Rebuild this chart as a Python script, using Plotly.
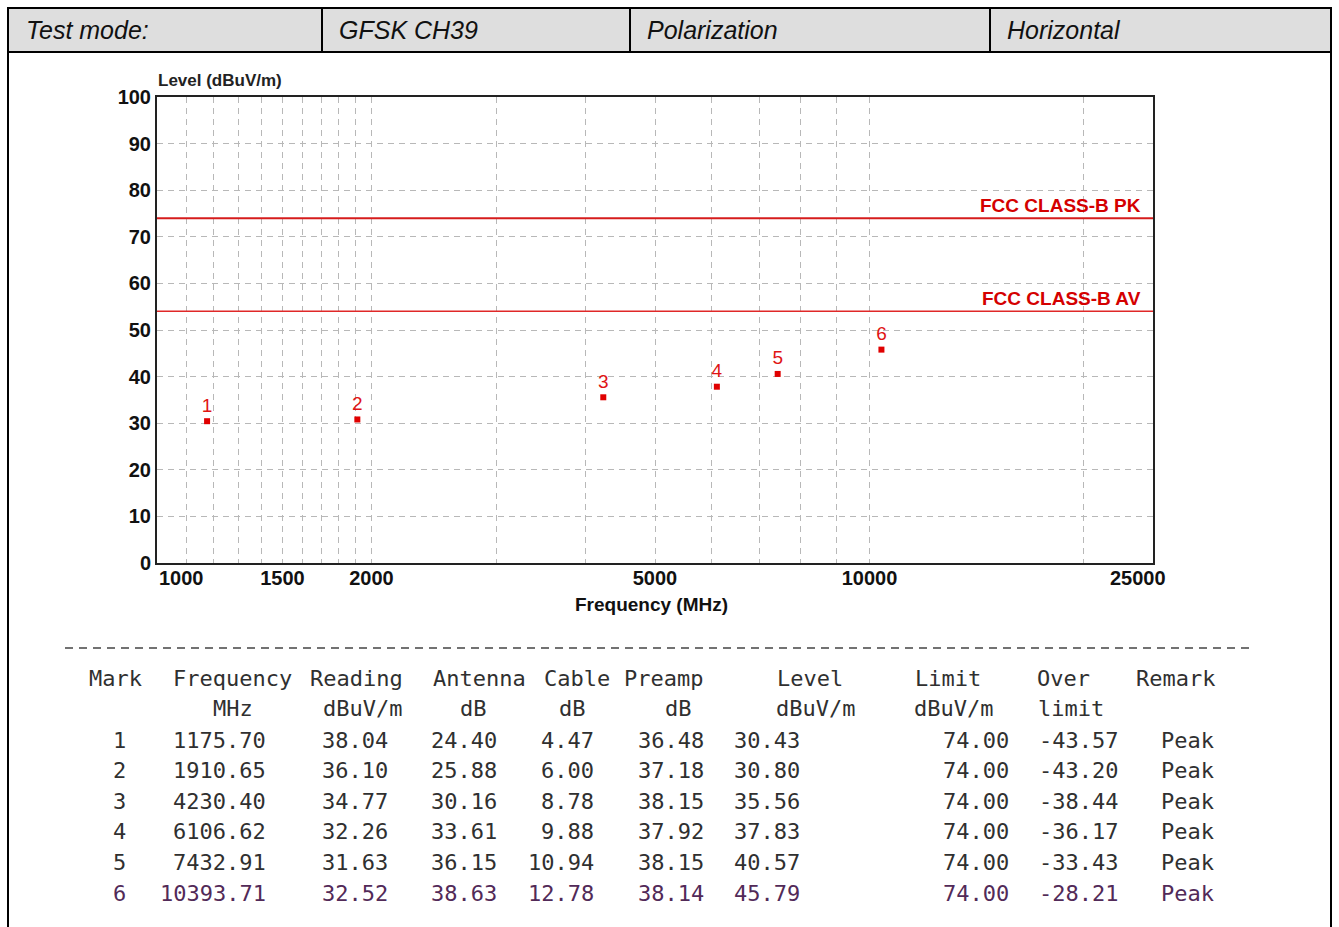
import math
import plotly.graph_objects as go

# measurement data (from the table under the chart)
MARKS = [1, 2, 3, 4, 5, 6]
FREQ = [1175.70, 1910.65, 4230.40, 6106.62, 7432.91, 10393.71]
READING = [38.04, 36.10, 34.77, 32.26, 31.63, 32.52]
ANTENNA = [24.40, 25.88, 30.16, 33.61, 36.15, 38.63]
CABLE = [4.47, 6.00, 8.78, 9.88, 10.94, 12.78]
PREAMP = [36.48, 37.18, 38.15, 37.92, 38.15, 38.14]
LEVEL = [30.43, 30.80, 35.56, 37.83, 40.57, 45.79]
LIMIT = [74.00, 74.00, 74.00, 74.00, 74.00, 74.00]
OVER = [-43.57, -43.20, -38.44, -36.17, -33.43, -28.21]
REMARK = ["Peak", "Peak", "Peak", "Peak", "Peak", "Peak"]

PK_LIMIT = 74
AV_LIMIT = 54
F_MIN, F_MAX = 1000, 25000

X_TICKS = [1000, 1500, 2000, 5000, 10000, 25000]
Y_TICKS = [0, 10, 20, 30, 40, 50, 60, 70, 80, 90, 100]
GRID_FREQS = [1100, 1200, 1300, 1400, 1500, 1600, 1700, 1800, 1900, 2000,
              3000, 4000, 5000, 6000, 7000, 8000, 9000, 10000, 20000]

HEADER = ["Test mode:", "GFSK CH39", "Polarization", "Horizontal"]
COL_HEAD1 = ["Mark", "Frequency", "Reading", "Antenna", "Cable", "Preamp",
             "Level", "Limit", "Over", "Remark"]
COL_HEAD2 = ["", "MHz", "dBuV/m", "dB", "dB", "dB", "dBuV/m", "dBuV/m", "limit", ""]

W, H = 1339, 927


def px(x):
    return x / W


def py(y):
    return 1 - y / H


GRID = "#b8b8b8"
DASH = "6px,5px"
TXT = "#303030"
SANS = "Liberation Sans"

fig = go.Figure()

fig.add_trace(go.Scatter(x=[F_MIN, F_MAX], y=[PK_LIMIT, PK_LIMIT], mode="lines",
                         line=dict(color="#d61c1c", width=2), hoverinfo="skip"))
fig.add_trace(go.Scatter(x=[F_MIN, F_MAX], y=[AV_LIMIT, AV_LIMIT], mode="lines",
                         line=dict(color="#e02828", width=1.5), hoverinfo="skip"))
fig.add_trace(go.Scatter(x=FREQ, y=LEVEL, mode="markers+text",
                         text=[str(m) for m in MARKS], textposition="top center",
                         textfont=dict(family=SANS, size=19, color="#e01414"),
                         marker=dict(symbol="square", size=6, color="#e00000")))

fig.update_layout(
    width=W, height=H, margin=dict(l=0, r=0, t=0, b=0, autoexpand=False),
    paper_bgcolor="white", plot_bgcolor="white", showlegend=False,
)

tick_font = dict(family=SANS, size=20, color="#111", weight="bold")

fig.update_xaxes(
    type="log", range=[math.log10(F_MIN), math.log10(F_MAX)],
    domain=[px(157), px(1153)], automargin=False,
    tickmode="array", tickvals=X_TICKS[1:-1], ticktext=[str(t) for t in X_TICKS[1:-1]],
    tickfont=tick_font, ticks="", ticklen=0, ticklabelstandoff=-4,
    showgrid=True, gridcolor=GRID, griddash=DASH, gridwidth=1,
    minor=dict(tickmode="array", tickvals=GRID_FREQS, showgrid=True,
               gridcolor=GRID, griddash=DASH, gridwidth=1, ticks=""),
    showline=True, linecolor="#222", linewidth=2, mirror=True, zeroline=False,
)
fig.update_yaxes(
    range=[0, 100], domain=[py(563), py(97)], automargin=False,
    tickmode="array", tickvals=Y_TICKS, ticktext=[str(t) for t in Y_TICKS],
    tickfont=tick_font, ticks="", ticklen=0, ticklabelstandoff=0,
    showgrid=True, gridcolor=GRID, griddash=DASH, gridwidth=1,
    showline=True, linecolor="#222", linewidth=2, mirror=True, zeroline=False,
)

shapes = [
    dict(type="rect", xref="paper", yref="paper", x0=px(8), x1=px(1331), y0=py(8), y1=py(52),
         fillcolor="#dedede", line=dict(color="black", width=2), layer="below"),
    dict(type="line", xref="paper", yref="paper", x0=px(8), x1=px(8), y0=py(52), y1=py(940),
         line=dict(color="black", width=2)),
    dict(type="line", xref="paper", yref="paper", x0=px(1331), x1=px(1331), y0=py(52), y1=py(940),
         line=dict(color="black", width=2)),
    dict(type="line", xref="paper", yref="paper", x0=px(65), x1=px(1255), y0=py(648), y1=py(648),
         line=dict(color="#444", width=1.5, dash="8px,6px")),
]
for sx in [322, 630, 990]:
    shapes.append(dict(type="line", xref="paper", yref="paper", x0=px(sx), x1=px(sx),
                       y0=py(8), y1=py(52), line=dict(color="black", width=2)))
fig.update_layout(shapes=shapes)

ann = []
# header row
for text, hx in zip(HEADER, [24, 337, 645, 1005]):
    ann.append(dict(text=text, xref="paper", yref="paper", x=px(hx), y=py(30),
                    xanchor="left", yanchor="middle", showarrow=False,
                    font=dict(family=SANS, size=25, color="#111", style="italic")))

# end tick labels of the frequency axis
ann.append(dict(text=str(X_TICKS[0]), xref="x", yref="paper", x=math.log10(X_TICKS[0]), y=py(578),
                xanchor="left", yanchor="middle", showarrow=False, font=tick_font))
ann.append(dict(text=str(X_TICKS[-1]), xref="x", yref="paper", x=math.log10(X_TICKS[-1]), y=py(578),
                xanchor="center", xshift=-15, yanchor="middle", showarrow=False, font=tick_font))

ann.append(dict(text="Frequency (MHz)", xref="paper", yref="paper", x=px(651), y=py(604),
                xanchor="center", yanchor="middle", showarrow=False,
                font=dict(family=SANS, size=19, color="#111", weight="bold")))
ann.append(dict(text="Level (dBuV/m)", xref="paper", yref="paper", x=px(156), y=py(80),
                xanchor="left", yanchor="middle", showarrow=False,
                font=dict(family=SANS, size=17, color="#222", weight="bold")))

lim_font = dict(family=SANS, size=19, color="#d40000", weight="bold")
ann.append(dict(text="FCC CLASS-B PK", xref="x domain", yref="y", x=0.99, y=PK_LIMIT,
                xanchor="right", yanchor="bottom", yshift=0, showarrow=False, font=lim_font))
ann.append(dict(text="FCC CLASS-B AV", xref="x domain", yref="y", x=0.99, y=AV_LIMIT,
                xanchor="right", yanchor="bottom", yshift=0, showarrow=False, font=lim_font))

# measurement table
mono = "DejaVu Sans Mono"
head_x1 = [87, 171, 308, 431, 542, 622, 775, 913, 1035, 1134]
head_x2 = [0, 211, 321, 458, 557, 663, 774, 912, 1036, 0]
for t, hx in zip(COL_HEAD1, head_x1):
    ann.append(dict(text=t, xref="paper", yref="paper", x=px(hx), y=py(678),
                    xanchor="left", yanchor="middle", showarrow=False,
                    font=dict(family=mono, size=22, color=TXT)))
for t, hx in zip(COL_HEAD2, head_x2):
    if t:
        ann.append(dict(text=t, xref="paper", yref="paper", x=px(hx), y=py(708),
                        xanchor="left", yanchor="middle", showarrow=False,
                        font=dict(family=mono, size=22, color=TXT)))

right_x = [128, 268, 390, 499, 596, 706, 802, 1011, 1120, 1216]
row_y = [740, 770, 801, 831, 862, 893]
for i in range(len(MARKS)):
    cells = [str(MARKS[i]), f"{FREQ[i]:.2f}", f"{READING[i]:.2f}", f"{ANTENNA[i]:.2f}",
             f"{CABLE[i]:.2f}", f"{PREAMP[i]:.2f}", f"{LEVEL[i]:.2f}", f"{LIMIT[i]:.2f}",
             f"{OVER[i]:.2f}", REMARK[i]]
    color = "#522a58" if i == len(MARKS) - 1 else TXT
    for t, rx in zip(cells, right_x):
        ann.append(dict(text=t, xref="paper", yref="paper", x=px(rx), y=py(row_y[i]),
                        xanchor="right", yanchor="middle", showarrow=False,
                        font=dict(family=mono, size=22, color=color)))

fig.update_layout(annotations=ann)

fig.write_html("out.html", config={"displayModeBar": False},
               post_script="document.body.style.margin='0';"
                           "document.documentElement.style.overflow='hidden';")
